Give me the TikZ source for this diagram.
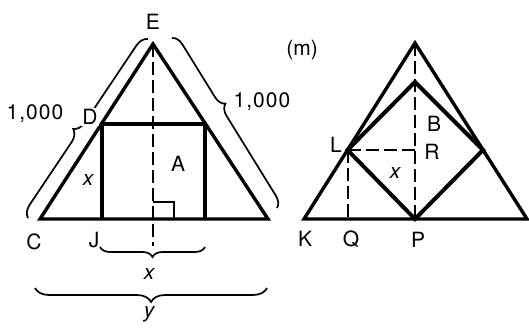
\documentclass[tikz,border=0pt]{standalone}
\usepackage{fontspec}
\setmainfont{TeX Gyre Heros}
\usetikzlibrary{decorations.pathreplacing}
\tikzset{
  thick line/.style={line width=3.4pt, line join=miter},
  heavy line/.style={line width=4pt},
  dash line/.style={line width=2pt, dash pattern=on 13pt off 5pt},
  bracepath/.style={line width=1.7pt, decorate, decoration={brace, amplitude=#1}},
  lbl/.style={inner sep=0pt, font=\fontsize{21}{23}\selectfont},
  num/.style={inner sep=0pt, font=\fontsize{21}{23}\selectfont\addfontfeatures{LetterSpace=5}},
}
\begin{document}
\begin{tikzpicture}[x=1pt,y=1pt]
\useasboundingbox (0,0) rectangle (529,-327);
% ---------- left figure ----------
\coordinate (C) at (40,-219);
\coordinate (E) at (153,-44);
\coordinate (F) at (268,-219);
\coordinate (D) at (102,-124);
\coordinate (D2) at (205,-124);
\coordinate (J) at (102,-219);
\coordinate (S2) at (205,-219);
\coordinate (I) at (153,-246);
\coordinate (RA1) at (153,-202);
\coordinate (RA2) at (174,-202);
\coordinate (RA3) at (174,-219);
% braces
\coordinate (lb1) at (28,-218);
\coordinate (lb2) at (148,-39);
\coordinate (rb1) at (172,-38);
\coordinate (rb2) at (277,-208);
\coordinate (xb1) at (205,-247);
\coordinate (xb2) at (100,-247);
\coordinate (yb1) at (267,-288);
\coordinate (yb2) at (35,-288);
\draw[bracepath=12, decoration={aspect=0.46}] (lb1) -- (lb2);
\draw[bracepath=11, decoration={aspect=0.42}] (rb1) -- (rb2);
\draw[bracepath=10] (xb1) -- (xb2);
\draw[bracepath=14] (yb1) -- (yb2);
\draw[dash line] (E) -- (I);
\draw[line width=1.5pt] (RA1) -- (RA2) -- (RA3);
\draw[thick line] (C) -- (E) -- (F) -- cycle;
\draw[heavy line] (J) -- (D) -- (D2) -- (S2);
\node[lbl] (lE) at (153,-22) {E};
\node[num] (l1000a) at (35,-114) {1,000};
\node[lbl, fill=white, inner sep=1pt] (lD) at (90,-117) {D};
\node[num] (l1000b) at (262,-102) {1,000};
\node[lbl] (lA) at (178,-164) {A};
\node[lbl] (lx1) at (88,-180) {\itshape x};
\node[lbl] (lC) at (34,-242) {C};
\node[lbl] (lJ) at (94,-240) {J};
\node[lbl] (lx2) at (149,-274) {\itshape x};
\node[lbl] (ly) at (149,-314) {\itshape y};
% ---------- right figure ----------
\coordinate (K) at (304,-219);
\coordinate (T) at (415,-43);
\coordinate (M) at (527,-219);
\coordinate (U) at (415,-82);
\coordinate (L) at (347.5,-150);
\coordinate (P) at (415,-219);
\coordinate (V) at (483,-150);
\coordinate (R) at (415,-150);
\coordinate (Q) at (347.5,-219);
\draw[dash line] (T) -- (P);
\draw[dash line] (L) -- (R);
\draw[dash line] (L) -- (Q);
\draw[thick line] (K) -- (T) -- (M) -- cycle;
\draw[heavy line, line join=miter] (U) -- (L) -- (P) -- (V) -- cycle;
\node[lbl] (lm) at (302,-50) {(m)};
\node[lbl] (lL) at (336,-145) {L};
\node[lbl] (lB) at (434,-124) {B};
\node[lbl] (lR) at (432,-152) {R};
\node[lbl] (lx3) at (395,-173) {\itshape x};
\node[lbl] (lK) at (305,-239) {K};
\node[lbl] (lQ) at (351,-239) {Q};
\node[lbl] (lP) at (418,-240) {P};
\end{tikzpicture}
\end{document}
